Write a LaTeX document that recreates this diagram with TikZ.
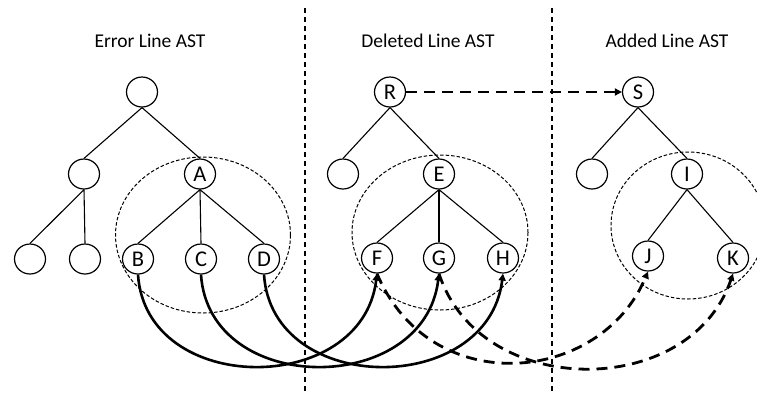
\documentclass[tikz,border=0pt]{standalone}
\usepackage{fontspec}
\setmainfont{Carlito}
\usetikzlibrary{arrows.meta,shapes.geometric}
\begin{document}
\begin{tikzpicture}[x=1pt,y=-1pt,
  tnode/.style={ellipse,draw,line width=1.2pt,minimum width=31pt,minimum height=30pt,inner sep=0pt,font=\fontsize{22.5}{22.5}\selectfont},
  tedge/.style={line width=1.1pt},
  title/.style={anchor=base,font=\fontsize{19.5}{19.5}\selectfont},
  divider/.style={line width=1.2pt,dash pattern=on 5pt off 4pt},
  region/.style={line width=1pt,dash pattern=on 3.5pt off 2pt},
  solidarc/.style={line width=2.6pt,-{Triangle[width=7pt,length=7pt]}},
  dasharc/.style={line width=2.8pt,dash pattern=on 11pt off 7pt,-{Triangle[width=7pt,length=7pt]}}
]
\useasboundingbox (0,0) rectangle (757,392);
\clip (0,0) rectangle (757,392);

% titles
\node[title] (t1) at (150,47) {Error Line AST};
\node[title] (t2) at (428,47) {Deleted Line AST};
\node[title] (t3) at (667,47) {Added Line AST};

% dividers
\draw[divider] (305,8) -- (305,392);
\draw[divider] (552,8) -- (552,392);

% region ellipses
\draw[region] (203,235) ellipse [x radius=87.5, y radius=78];
\draw[region] (440,232.5) ellipse [x radius=88, y radius=77.5];
\draw[region] (688,225.5) ellipse [x radius=77, y radius=73.5];

% error line tree
\node[tnode] (n0) at (142,92) {};
\node[tnode] (n1) at (84,174) {};
\node[tnode] (A) at (200,174) {A};
\node[tnode] (n2) at (30,259) {};
\node[tnode] (n3) at (85,259) {};
\node[tnode] (B) at (138,259) {B};
\node[tnode] (C) at (201,259) {C};
\node[tnode] (D) at (264,259) {D};
\draw[tedge] (n0.south) -- (n1.north);
\draw[tedge] (n0.south) -- (A.north);
\draw[tedge] (n1.south) -- (n2.north);
\draw[tedge] (n1.south) -- (n3.north);
\draw[tedge] (A.south) -- (B.north);
\draw[tedge] (A.south) -- (C.north);
\draw[tedge] (A.south) -- (D.north);

% deleted line tree
\node[tnode] (R) at (390,92) {R};
\node[tnode] (r1) at (343,174) {};
\node[tnode] (E) at (439,174) {E};
\node[tnode] (F) at (377,258) {F};
\node[tnode] (G) at (439,258) {G};
\node[tnode] (H) at (503,258) {H};
\draw[tedge] (R.south) -- (r1.north);
\draw[tedge] (R.south) -- (E.north);
\draw[tedge] (E.south) -- (F.north);
\draw[tedge] (E.south) -- (G.north);
\draw[tedge] (E.south) -- (H.north);

% added line tree
\node[tnode] (S) at (638,92) {S};
\node[tnode] (s1) at (592,174) {};
\node[tnode] (I) at (687,174) {I};
\node[tnode] (J) at (648,256) {J};
\node[tnode] (K) at (733,258) {K};
\draw[tedge] (S.south) -- (s1.north);
\draw[tedge] (S.south) -- (I.north);
\draw[tedge] (I.south) -- (J.north);
\draw[tedge] (I.south) -- (K.north);

% mappings
\draw[dasharc] (R.east) -- (S.west);
\draw[solidarc] (B.south) .. controls (146,397) and (362,397) .. (F.south);
\draw[solidarc] (C.south) .. controls (209,397) and (424,397) .. (G.south);
\draw[solidarc] (D.south) .. controls (272,397) and (488,397) .. (H.south);
\draw[dasharc] (F.south) .. controls (430,400) and (600,385) .. (J.south);
\draw[dasharc] (G.south) .. controls (480,400) and (690,400) .. (K.south);
\end{tikzpicture}
\end{document}
